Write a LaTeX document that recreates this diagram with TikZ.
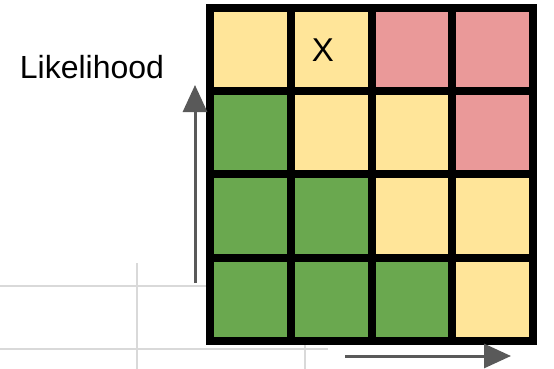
\documentclass[tikz,border=0pt]{standalone}
\usepackage{fontspec}
\setmainfont{Liberation Sans}
\usepackage{tikz}
\usetikzlibrary{arrows.meta}
\usepackage{xcolor}

\definecolor{lowgreen}{HTML}{6AA84F}
\definecolor{midyellow}{HTML}{FFE599}
\definecolor{highred}{HTML}{EA9999}
\definecolor{axisgray}{HTML}{595959}
\definecolor{sheetgray}{HTML}{D9D9D9}

\tikzset{
  cell/.style={draw=black, line width=8pt, minimum width=80.6pt, minimum height=83.2pt, inner sep=0pt},
  axis/.style={draw=axisgray, line width=3pt, -{Triangle[length=27pt,width=24pt]}},
  sheet/.style={draw=sheetgray, line width=2pt}
}

\begin{document}
\begin{tikzpicture}[x=1pt, y=-1pt]
  \useasboundingbox (0,0) rectangle (554,369);

  % faint sheet lines behind the grid
  \coordinate (H1a) at (0,286);
  \coordinate (H1b) at (207,286);
  \coordinate (H2a) at (0,349);
  \coordinate (H2b) at (328,349);
  \coordinate (V1a) at (137,263);
  \coordinate (V1b) at (137,369);
  \coordinate (V2a) at (305,345);
  \coordinate (V2b) at (305,369);
  \draw[sheet] (H1a) -- (H1b);
  \draw[sheet] (H2a) -- (H2b);
  \draw[sheet] (V1a) -- (V1b);
  \draw[sheet] (V2a) -- (V2b);

  % risk grid
  \foreach \row/\y/\cols in {1/49.9/{midyellow,midyellow,highred,highred},
                             2/133/{lowgreen,midyellow,midyellow,highred},
                             3/216/{lowgreen,lowgreen,midyellow,midyellow},
                             4/299.5/{lowgreen,lowgreen,lowgreen,midyellow}} {
    \foreach \c [count=\col] in \cols {
      \pgfmathsetmacro{\x}{250.75+80.6*(\col-1)}
      \node[cell, fill=\c] (c-\row-\col) at (\x,\y) {};
    }
  }
  \node[font=\fontsize{33}{40}\selectfont] (mark) at (323,50.5) {X};

  % axes
  \coordinate (up0) at (195,283);
  \coordinate (up1) at (195,85);
  \draw[axis] (up0) -- (up1);
  \coordinate (rt0) at (345,356);
  \coordinate (rt1) at (511,356);
  \draw[axis] (rt0) -- (rt1);

  \node[font=\fontsize{32}{38}\selectfont] (lik) at (92,67) {Likelihood};
\end{tikzpicture}
\end{document}
